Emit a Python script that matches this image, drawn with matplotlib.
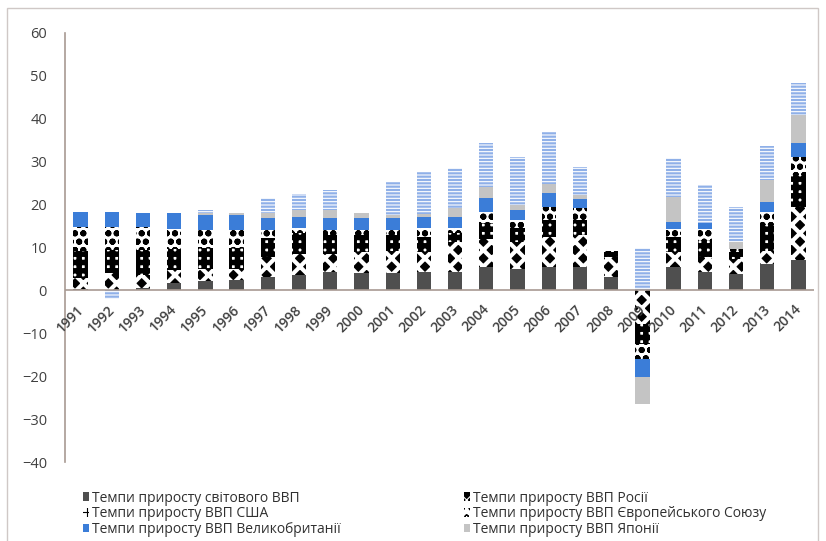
import numpy as np
import matplotlib.pyplot as plt
from matplotlib.patches import Rectangle

plt.rcParams['font.family'] = ['Open Sans', 'DejaVu Sans']

years = [str(y) for y in range(1991, 2015)]

# growth rates, one list per series (stack order bottom -> top)
world = [0.3, 0.0, 0.5, 1.8, 2.2, 2.5, 3.1, 3.5, 4.3, 4.0, 4.0, 4.3,
         4.3, 5.4, 5.0, 5.4, 5.4, 3.1, 0.0, 5.4, 4.3, 3.9, 6.2, 7.0]
russia = [2.7, 4.0, 3.0, 2.9, 2.8, 2.5, 4.7, 5.1, 4.3, 5.0, 5.3, 4.7,
          7.0, 6.6, 6.3, 7.1, 7.4, 4.7, -7.8, 3.6, 3.5, 3.5, 3.1, 12.5]
usa = [6.3, 5.5, 6.0, 5.0, 5.0, 5.0, 4.3, 4.7, 4.2, 3.8, 3.5, 3.5,
       2.0, 3.6, 3.2, 3.9, 3.6, 1.2, -4.6, 3.5, 3.9, 1.5, 5.9, 7.5]
eu = [5.4, 5.2, 5.2, 4.5, 4.0, 4.0, 1.9, 1.2, 1.2, 1.2, 1.2, 2.0,
      1.2, 2.7, 1.9, 3.1, 2.7, 0.3, -3.5, 1.9, 2.7, 0.8, 3.1, 4.0]
uk = [3.5, 3.5, 3.3, 3.8, 3.5, 3.5, 2.8, 2.5, 2.8, 2.8, 2.8, 2.5,
      2.6, 3.2, 2.3, 3.1, 2.3, 0.0, -4.4, 1.6, 1.2, 0.0, 2.3, 3.3]
japan = [0.0, 0.0, 0.0, 0.0, 0.5, 0.5, 1.2, 1.7, 1.9, 1.3, 0.7, 0.8,
         2.0, 2.6, 1.2, 2.3, 0.8, 0.0, -6.1, 5.8, 0.0, 1.6, 5.1, 6.6]
china = [0.0, -2.0, 0.0, 0.0, 0.7, 0.0, 3.5, 3.8, 4.6, 0.0, 7.8, 9.8,
         9.4, 10.2, 11.2, 12.1, 6.6, 0.0, 9.8, 9.0, 8.9, 8.2, 7.9, 7.4]

labels = ['Темпи приросту світового ВВП', 'Темпи приросту ВВП Росії',
          'Темпи приросту ВВП США', 'Темпи приросту ВВП Європейського Союзу',
          'Темпи приросту ВВП Великобританії', 'Темпи приросту ВВП Японії',
          'Темпи приросту ВВП Китаю']

series = [world, russia, usa, eu, uk, japan, china]
# (bar style, hatch line width)
styles = [
    (dict(color='#4f4f4f'), 1.0),
    (dict(facecolor='black', edgecolor='white', hatch='xx', linewidth=0), 3.0),
    (dict(facecolor='white', edgecolor='black', hatch='++', linewidth=0), 4.0),
    (dict(facecolor='white', edgecolor='black', hatch='oo', linewidth=0), 2.0),
    (dict(color='#3b7dd8'), 1.0),
    (dict(color='#c4c4c4'), 1.0),
    (dict(facecolor='#8fb0e8', edgecolor='white', hatch='-----', linewidth=0), 0.8),
]

fig = plt.figure(figsize=(8.26, 5.41), dpi=100)
ax = fig.add_axes([65 / 826, 1 - 462 / 541, 749 / 826, 429 / 541])

x = np.arange(len(years))
pos_bottom = np.zeros(len(years))
neg_bottom = np.zeros(len(years))
handles = []
for vals, (st, hlw), lab in zip(series, styles, labels):
    plt.rcParams['hatch.linewidth'] = hlw
    v = np.array(vals)
    bottom = np.where(v >= 0, pos_bottom, neg_bottom)
    b = ax.bar(x, v, width=0.46, bottom=bottom, label=lab, **st)
    for p in b:
        if hasattr(p, 'set_hatch_linewidth'):
            p.set_hatch_linewidth(hlw)
    handles.append(b)
    pos_bottom += np.where(v > 0, v, 0)
    neg_bottom += np.where(v < 0, v, 0)

ax.set_xlim(-0.5, len(years) - 0.5)
ax.set_ylim(-40, 60)
ax.set_yticks(range(-40, 61, 10))
ax.tick_params(axis='y', length=0, pad=13, labelsize=10.5, labelcolor='#404040')
ax.set_xticks([])
for s in ['top', 'right', 'bottom']:
    ax.spines[s].set_visible(False)
ax.spines['left'].set_color('#a89a92')
ax.spines['left'].set_linewidth(1.2)
ax.axhline(0, color='#a89a92', linewidth=1.2, zorder=3)

for i, yr in enumerate(years):
    ax.text(i + 0.02, -3.9, yr, rotation=45, ha='right', va='center',
            rotation_mode='anchor', fontsize=10, color='#404040', fontweight='semibold')

# legend in two columns, rows ordered like the original
leg_kw = dict(frameon=False, fontsize=10, handlelength=0.45, handleheight=0.6,
              handletextpad=0.25, labelspacing=0.05, labelcolor='#303030', borderaxespad=0)
leg1 = fig.legend([handles[0], handles[2], handles[4]], [labels[0], labels[2], labels[4]],
                  loc='upper left', bbox_to_anchor=(77 / 826, 1 - 485 / 541), **leg_kw)
leg2 = fig.legend([handles[1], handles[3], handles[5]], [labels[1], labels[3], labels[5]],
                  loc='upper left', bbox_to_anchor=(458 / 826, 1 - 485 / 541), **leg_kw)

fig.patches.append(Rectangle((7 / 826, -0.02), 811 / 826, 1 - 8 / 541 + 0.02,
                             transform=fig.transFigure, fill=False,
                             edgecolor='#cfc8c6', linewidth=1.0))

fig.savefig('out.png', dpi=100)
